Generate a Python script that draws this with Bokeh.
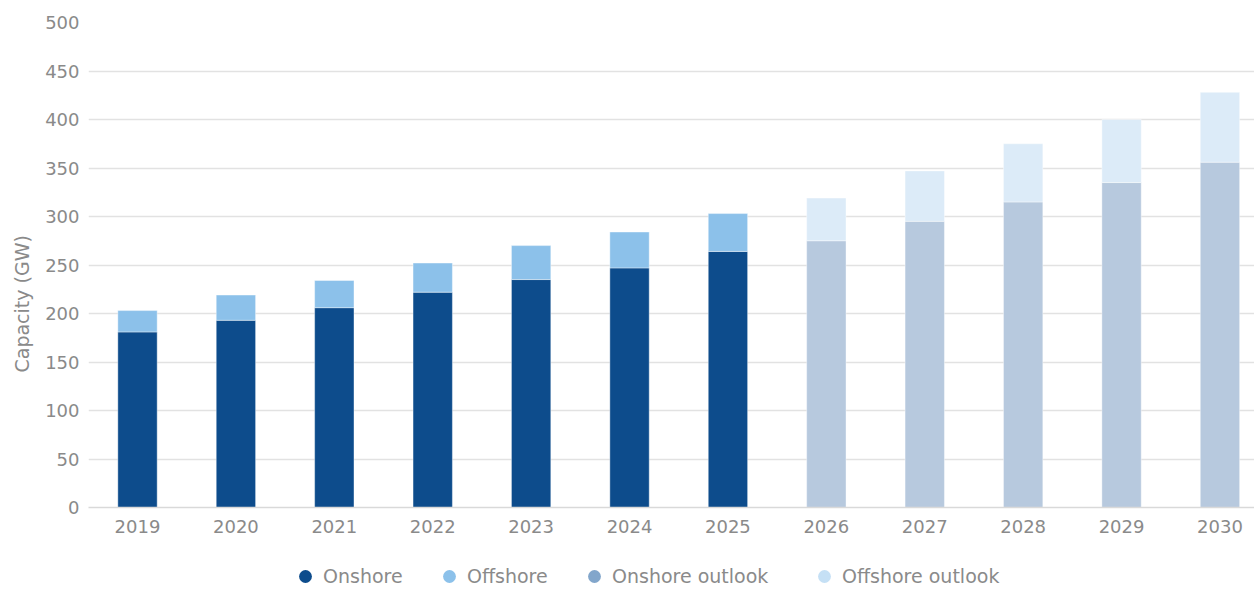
from bokeh.plotting import figure
from bokeh.layouts import column
from bokeh.models import Range1d, FixedTicker, Legend, LegendItem, Title
from bokeh.embed import file_html
from bokeh.resources import INLINE

# ---- data ----
actual_years = [2019, 2020, 2021, 2022, 2023, 2024, 2025]
actual_onshore = [181, 193, 206, 222, 235, 247, 264]
actual_offshore = [22, 26, 28, 30, 35, 37, 39]

outlook_years = [2026, 2027, 2028, 2029, 2030]
outlook_onshore = [275, 295, 315, 335, 356]
outlook_offshore = [44, 52, 60, 65, 72]

y_ticks = [0, 50, 100, 150, 200, 250, 300, 350, 400, 450, 500]
series_names = ["Onshore", "Offshore", "Onshore outlook", "Offshore outlook"]

FONT = "DejaVu Sans"
TXT = "#8a8a8a"
GRID = "#e2e2e2"

p = figure(width=1254, height=560, output_backend="svg", toolbar_location=None,
           x_range=Range1d(2018.502, 2030.351), y_range=Range1d(0, 500),
           min_border_left=88, min_border_right=0, min_border_top=22,
           min_border_bottom=53)
p.outline_line_color = None
p.background_fill_color = "white"

act_top = [a + b for a, b in zip(actual_onshore, actual_offshore)]
out_top = [a + b for a, b in zip(outlook_onshore, outlook_offshore)]

p.vbar(x=actual_years, bottom=0, top=actual_onshore, width=0.4,
       fill_color="#0d4c8c", line_color="white", line_alpha=0.4, line_width=1)
p.vbar(x=actual_years, bottom=actual_onshore, top=act_top, width=0.4,
       fill_color="#8cc1ea", line_color="white", line_alpha=0.4, line_width=1)
p.vbar(x=outlook_years, bottom=0, top=outlook_onshore, width=0.4,
       fill_color="#b7c9de", line_color="white", line_alpha=0.4, line_width=1)
p.vbar(x=outlook_years, bottom=outlook_onshore, top=out_top, width=0.4,
       fill_color="#dcebf8", line_color="white", line_alpha=0.4, line_width=1)

# axes
p.xaxis.ticker = FixedTicker(ticks=actual_years + outlook_years)
p.xaxis.major_tick_line_color = None
p.xaxis.minor_tick_line_color = None
p.xaxis.axis_line_color = "#d9d9d9"
p.xaxis.axis_line_width = 1.5
p.xaxis.major_label_text_font = FONT
p.xaxis.major_label_text_font_size = "18px"
p.xaxis.major_label_text_color = TXT
p.xaxis.major_label_standoff = 6

p.yaxis.ticker = FixedTicker(ticks=y_ticks)
p.yaxis.major_tick_line_color = None
p.yaxis.minor_tick_line_color = None
p.yaxis.axis_line_color = None
p.yaxis.major_label_text_font = FONT
p.yaxis.major_label_text_font_size = "18px"
p.yaxis.major_label_text_color = TXT
p.yaxis.major_label_standoff = 3

p.xgrid.grid_line_color = None
p.ygrid.grid_line_color = GRID
p.ygrid.grid_line_width = 1.5

p.add_layout(Title(text="Capacity (GW)", align="left", offset=135,
                   vertical_align="top",
                   text_font=FONT, text_font_size="19px", text_font_style="normal",
                   text_color=TXT, standoff=16), "left")

# legend strip (frame is aligned with the main frame by the column layout)
lf = figure(width=1254, height=32, output_backend="svg", toolbar_location=None,
            x_range=Range1d(0, 1), y_range=Range1d(0, 1),
            x_axis_location=None, y_axis_location=None,
            min_border_left=88, min_border_right=0, min_border_top=0,
            min_border_bottom=0)
lf.outline_line_color = None
lf.xgrid.grid_line_color = None
lf.ygrid.grid_line_color = None

legend_colors = ["#0d4c8c", "#8cc1ea", "#82a6cb", "#c5e0f5"]
legend_x = [201, 345, 490, 720]
for name, col, lx in zip(series_names, legend_colors, legend_x):
    dummy = lf.scatter(x=[-10], y=[-10], marker="circle", size=12,
                       fill_color=col, line_color=None)
    lg = Legend(items=[LegendItem(label=name, renderers=[dummy])],
                location=(lx, 0), orientation="horizontal",
                glyph_width=32, glyph_height=32, label_standoff=2,
                label_text_font=FONT, label_text_font_size="19px",
                label_text_color=TXT, padding=0, margin=0, spacing=0,
                border_line_color=None, background_fill_alpha=0)
    lf.add_layout(lg, "center")

layout = column(p, lf, spacing=0)
open("out.html", "w").write(file_html(layout, INLINE))
